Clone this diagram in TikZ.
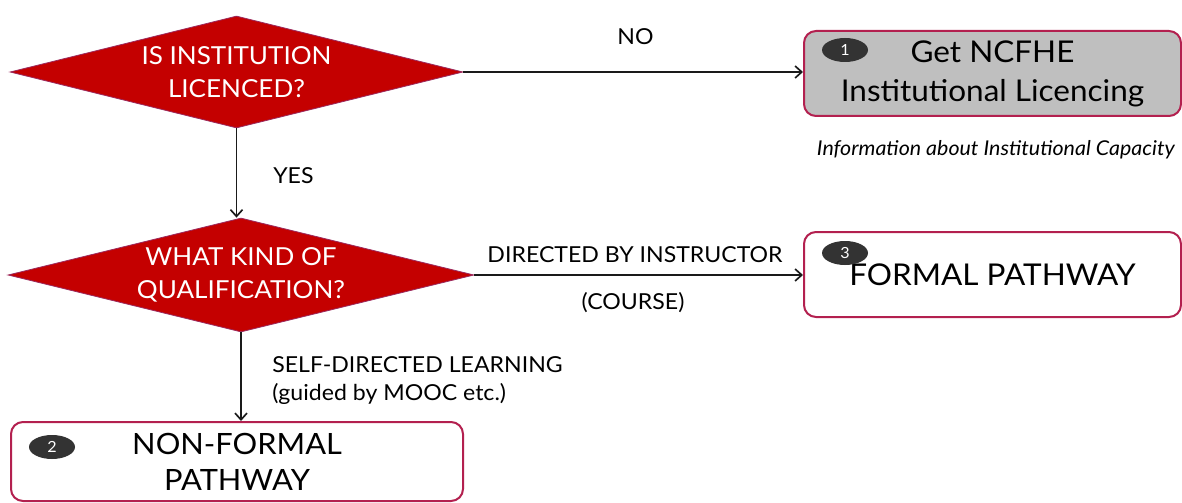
\documentclass[tikz,border=0pt]{standalone}
\usepackage{fontspec}
\setmainfont{Lato}[FakeStretch=1.05]
\usetikzlibrary{shapes.geometric,arrows.meta}

\definecolor{qred}{HTML}{C40000}
\definecolor{qedge}{HTML}{9B2A5E}
\definecolor{boxedge}{HTML}{B3204F}
\definecolor{boxgray}{HTML}{BFBFBF}
\definecolor{badgefill}{HTML}{333333}
\definecolor{linecol}{HTML}{1A1A1A}

\tikzset{
  decision/.style={diamond, shape aspect=4.05, draw=qedge, line width=0.6pt, fill=qred,
    inner sep=0pt, text=white, align=center, font=\fontsize{18.6}{24.75}\selectfont},
  stepbox/.style={rectangle, rounded corners=9pt, draw=boxedge, line width=1.5pt,
    fill=white, inner sep=0pt, align=center, text=black,
    font=\fontsize{22.5}{29.25}\selectfont},
  badge/.style={ellipse, fill=badgefill, inner sep=0pt, minimum width=34.5pt,
    minimum height=18pt, text=white, font=\fontsize{11.5}{13}\selectfont},
  flow/.style={draw=linecol, line width=1.25pt, -{Straight Barb[length=5pt,width=9pt,line width=1.25pt]}},
  lbl/.style={inner sep=0pt, text=black, font=\fontsize{16.5}{20}\selectfont},
  note/.style={inner sep=0pt, text=black, font=\fontsize{15.3}{16}\itshape}
}

\begin{document}
\begin{tikzpicture}[x=0.75pt,y=-0.75pt]
\useasboundingbox (0,0) rectangle (1182,503);

% decisions
\node[decision, minimum width=339.75pt, minimum height=84pt] (d1) at (236.5,72)
  {IS INSTITUTION\\LICENCED?};
\node[decision, minimum width=349.5pt, minimum height=85.5pt] (d2) at (241,275)
  {WHAT KIND OF\\QUALIFICATION?};

% outcome boxes
\node[stepbox, fill=boxgray, minimum width=282.75pt, minimum height=63.75pt] (b1) at (992.5,73.5)
  {Get NCFHE\\Institutional Licencing};
\node[stepbox, minimum width=282.75pt, minimum height=63.75pt] (b3) at (992.5,274.5)
  {FORMAL PATHWAY};
\node[stepbox, minimum width=339pt, minimum height=59.25pt,
  font=\fontsize{22}{27}\selectfont] (b2) at (237,461.5)
  {NON-FORMAL\\PATHWAY};

% numbered badges
\node[badge] (n1) at (845,50) {1};
\node[badge] (n3) at (845,253) {3};
\node[badge] (n2) at (52,447) {2};

% connectors
\draw[flow] (d1.east) -- (d1.east -| b1.west);
\draw[flow] (d1.south) -- (d1.south |- d2.north);
\draw[flow] (d2.east) -- (d2.east -| b3.west);
\draw[flow] (d2.south) -- (d2.south |- b2.north);

% connector labels
\node[lbl, anchor=base] (lno) at (635.5,45) {NO};
\node[lbl, anchor=base west] (lyes) at (273,183) {YES};
\node[lbl, anchor=base] (ldir) at (635,262) {DIRECTED BY INSTRUCTOR};
\node[lbl, anchor=base] (lcourse) at (633,309) {(COURSE)};
\node[lbl, anchor=base west] (lself) at (272,372) {SELF-DIRECTED LEARNING};
\node[lbl, anchor=base west] (lmooc) at (272,400) {(guided by MOOC etc.)};

% note under the licencing box
\node[note, anchor=base east] (info) at (1175,156) {Information about Institutional Capacity};
\end{tikzpicture}
\end{document}
